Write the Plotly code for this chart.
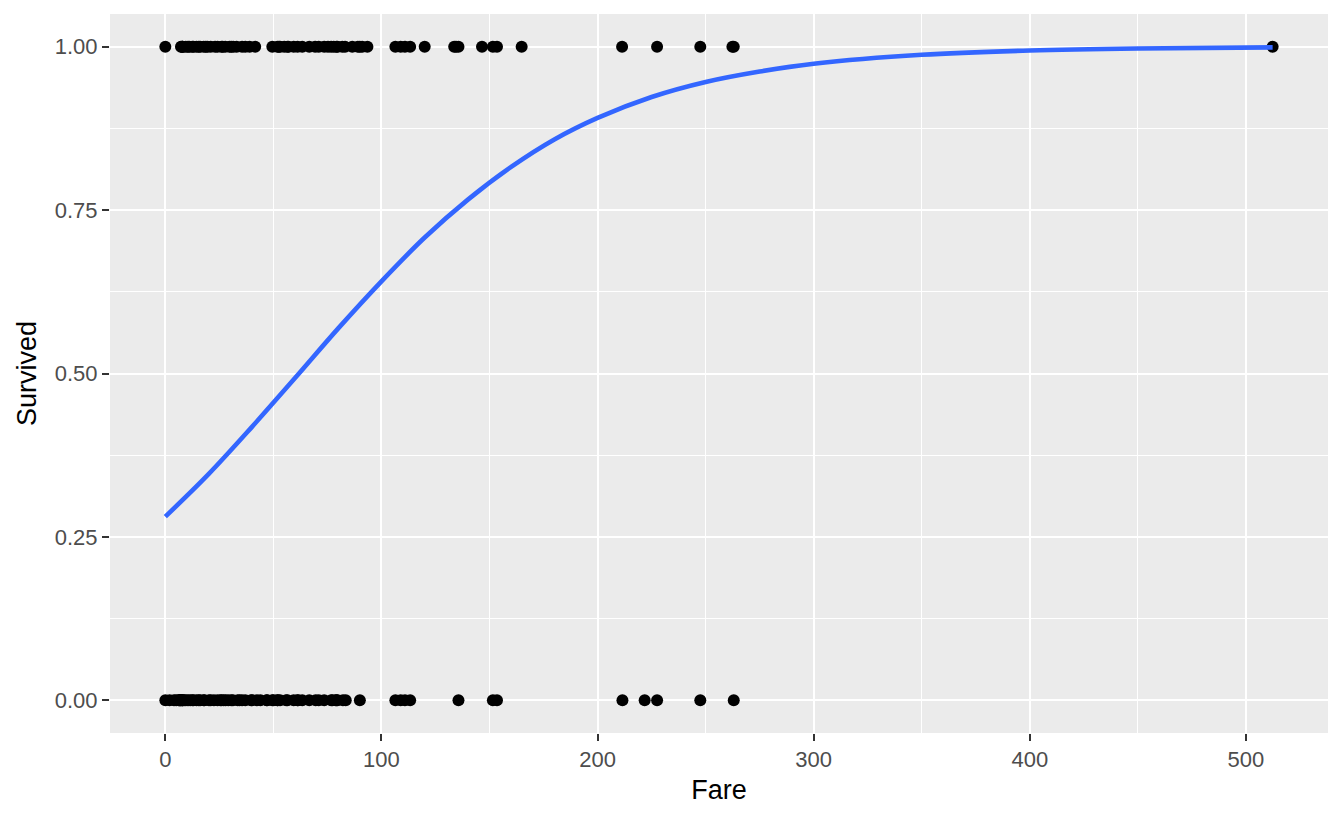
import plotly.graph_objects as go

# Fares of passengers who survived (Survived = 1)
fare_survived = [0, 7.23, 7.75, 7.93, 8.05, 9.5, 10.5, 11.13, 12.48, 13, 14.45, 15.5, 16.1,
                 17.8, 18.75, 19.5, 21, 23, 24.15, 26, 26.55, 27.72, 29.7, 30.5, 31.39, 33,
                 35.5, 37, 39, 41.58,
                 49.5, 51.86, 52.55, 53.1, 55, 56.5, 57, 59.4, 61.2, 63.36, 66.6, 69.3, 71,
                 73.5, 75.25, 76.7, 77.96, 79.2, 79.65, 81.86, 83.16, 86.5, 89.1, 90, 91.08, 93.5,
                 106.43, 108.9, 110.88, 113.28, 120, 133.65, 134.5, 135.63, 146.52, 151.55,
                 153.46, 164.87, 211.34, 227.53, 247.52, 262.38, 263, 512.33]

# Fares of passengers who died (Survived = 0)
fare_died = [0, 2, 4.01, 5, 6.24, 6.45, 6.75, 7.05, 7.25, 7.75, 7.9, 8.05, 8.66, 9.5, 10.5,
             11.5, 12.5, 13, 14.45, 15.5, 16.1, 17.8, 18, 20.2, 21, 22.5, 24.15, 25.47, 26, 27,
             27.9, 29.12, 30.5, 31.27, 33.5, 34.38, 35.5, 37, 39.69, 40.13, 42.4, 44, 46.9, 47.1,
             49.5, 50, 51.86, 52, 53.1, 55.9, 56.5, 59.4, 61.18, 61.38, 63.36, 66.6, 69.55, 71,
             73.5, 76.73, 77.29, 78.85, 79.2, 79.65, 82.17, 83.48, 90,
             106.43, 108.9, 110.88, 113.28, 135.63, 151.55, 153.46, 211.5, 221.78, 227.53,
             247.52, 263]

# Fitted logistic curve
curve_fare = [0, 20, 40, 60, 80, 100, 120, 140, 160, 180, 200, 225, 250, 275, 300,
              350, 400, 450, 512.33]
curve_prob = [0.281, 0.346, 0.418, 0.493, 0.569, 0.641, 0.708, 0.766, 0.816, 0.858, 0.891,
              0.923, 0.946, 0.962, 0.974, 0.9876, 0.9942, 0.9973, 0.9989]

x_ticks = [0, 100, 200, 300, 400, 500]
y_ticks = [0, 0.25, 0.5, 0.75, 1.0]
y_tick_labels = ["0.00", "0.25", "0.50", "0.75", "1.00"]

fig = go.Figure()
fig.add_trace(go.Scatter(x=fare_died, y=[0] * len(fare_died), mode="markers",
                         marker=dict(color="black", size=12, line=dict(width=0)),
                         showlegend=False, hoverinfo="x+y"))
fig.add_trace(go.Scatter(x=fare_survived, y=[1] * len(fare_survived), mode="markers",
                         marker=dict(color="black", size=12, line=dict(width=0)),
                         showlegend=False, hoverinfo="x+y"))
fig.add_trace(go.Scatter(x=curve_fare, y=curve_prob, mode="lines",
                         line=dict(color="#3366FF", width=4.6, shape="spline"),
                         showlegend=False))

font_family = "Liberation Sans, Arial, Helvetica, sans-serif"
fig.update_layout(
    width=1336, height=811,
    paper_bgcolor="white", plot_bgcolor="#EBEBEB",
    margin=dict(l=102, r=16, t=6, b=86),
    font=dict(family=font_family),
    xaxis=dict(
        range=[-25.6, 537.95], tickvals=x_ticks, ticktext=[str(v) for v in x_ticks],
        showgrid=True, gridcolor="white", gridwidth=2.3, zeroline=False,
        ticks="outside", ticklen=7, tickwidth=2, tickcolor="#333333",
        tickfont=dict(size=22, color="#4D4D4D"),
        minor=dict(tickvals=[50, 150, 250, 350, 450], showgrid=True, gridcolor="white",
                   gridwidth=1.1, ticks=""),
        title=dict(text="Fare", font=dict(size=27, color="black"), standoff=8),
        showline=False, automargin=False,
    ),
    yaxis=dict(
        range=[-0.05, 1.05], tickvals=y_ticks, ticktext=y_tick_labels,
        showgrid=True, gridcolor="white", gridwidth=2.3, zeroline=False,
        ticks="outside", ticklen=7, tickwidth=2, tickcolor="#333333",
        tickfont=dict(size=22, color="#4D4D4D"),
        minor=dict(tickvals=[0.125, 0.375, 0.625, 0.875], showgrid=True, gridcolor="white",
                   gridwidth=1.1, ticks=""),
        title=dict(text="Survived", font=dict(size=27, color="black"), standoff=10),
        showline=False, automargin=False,
    ),
)

fig.write_html("out.html")
